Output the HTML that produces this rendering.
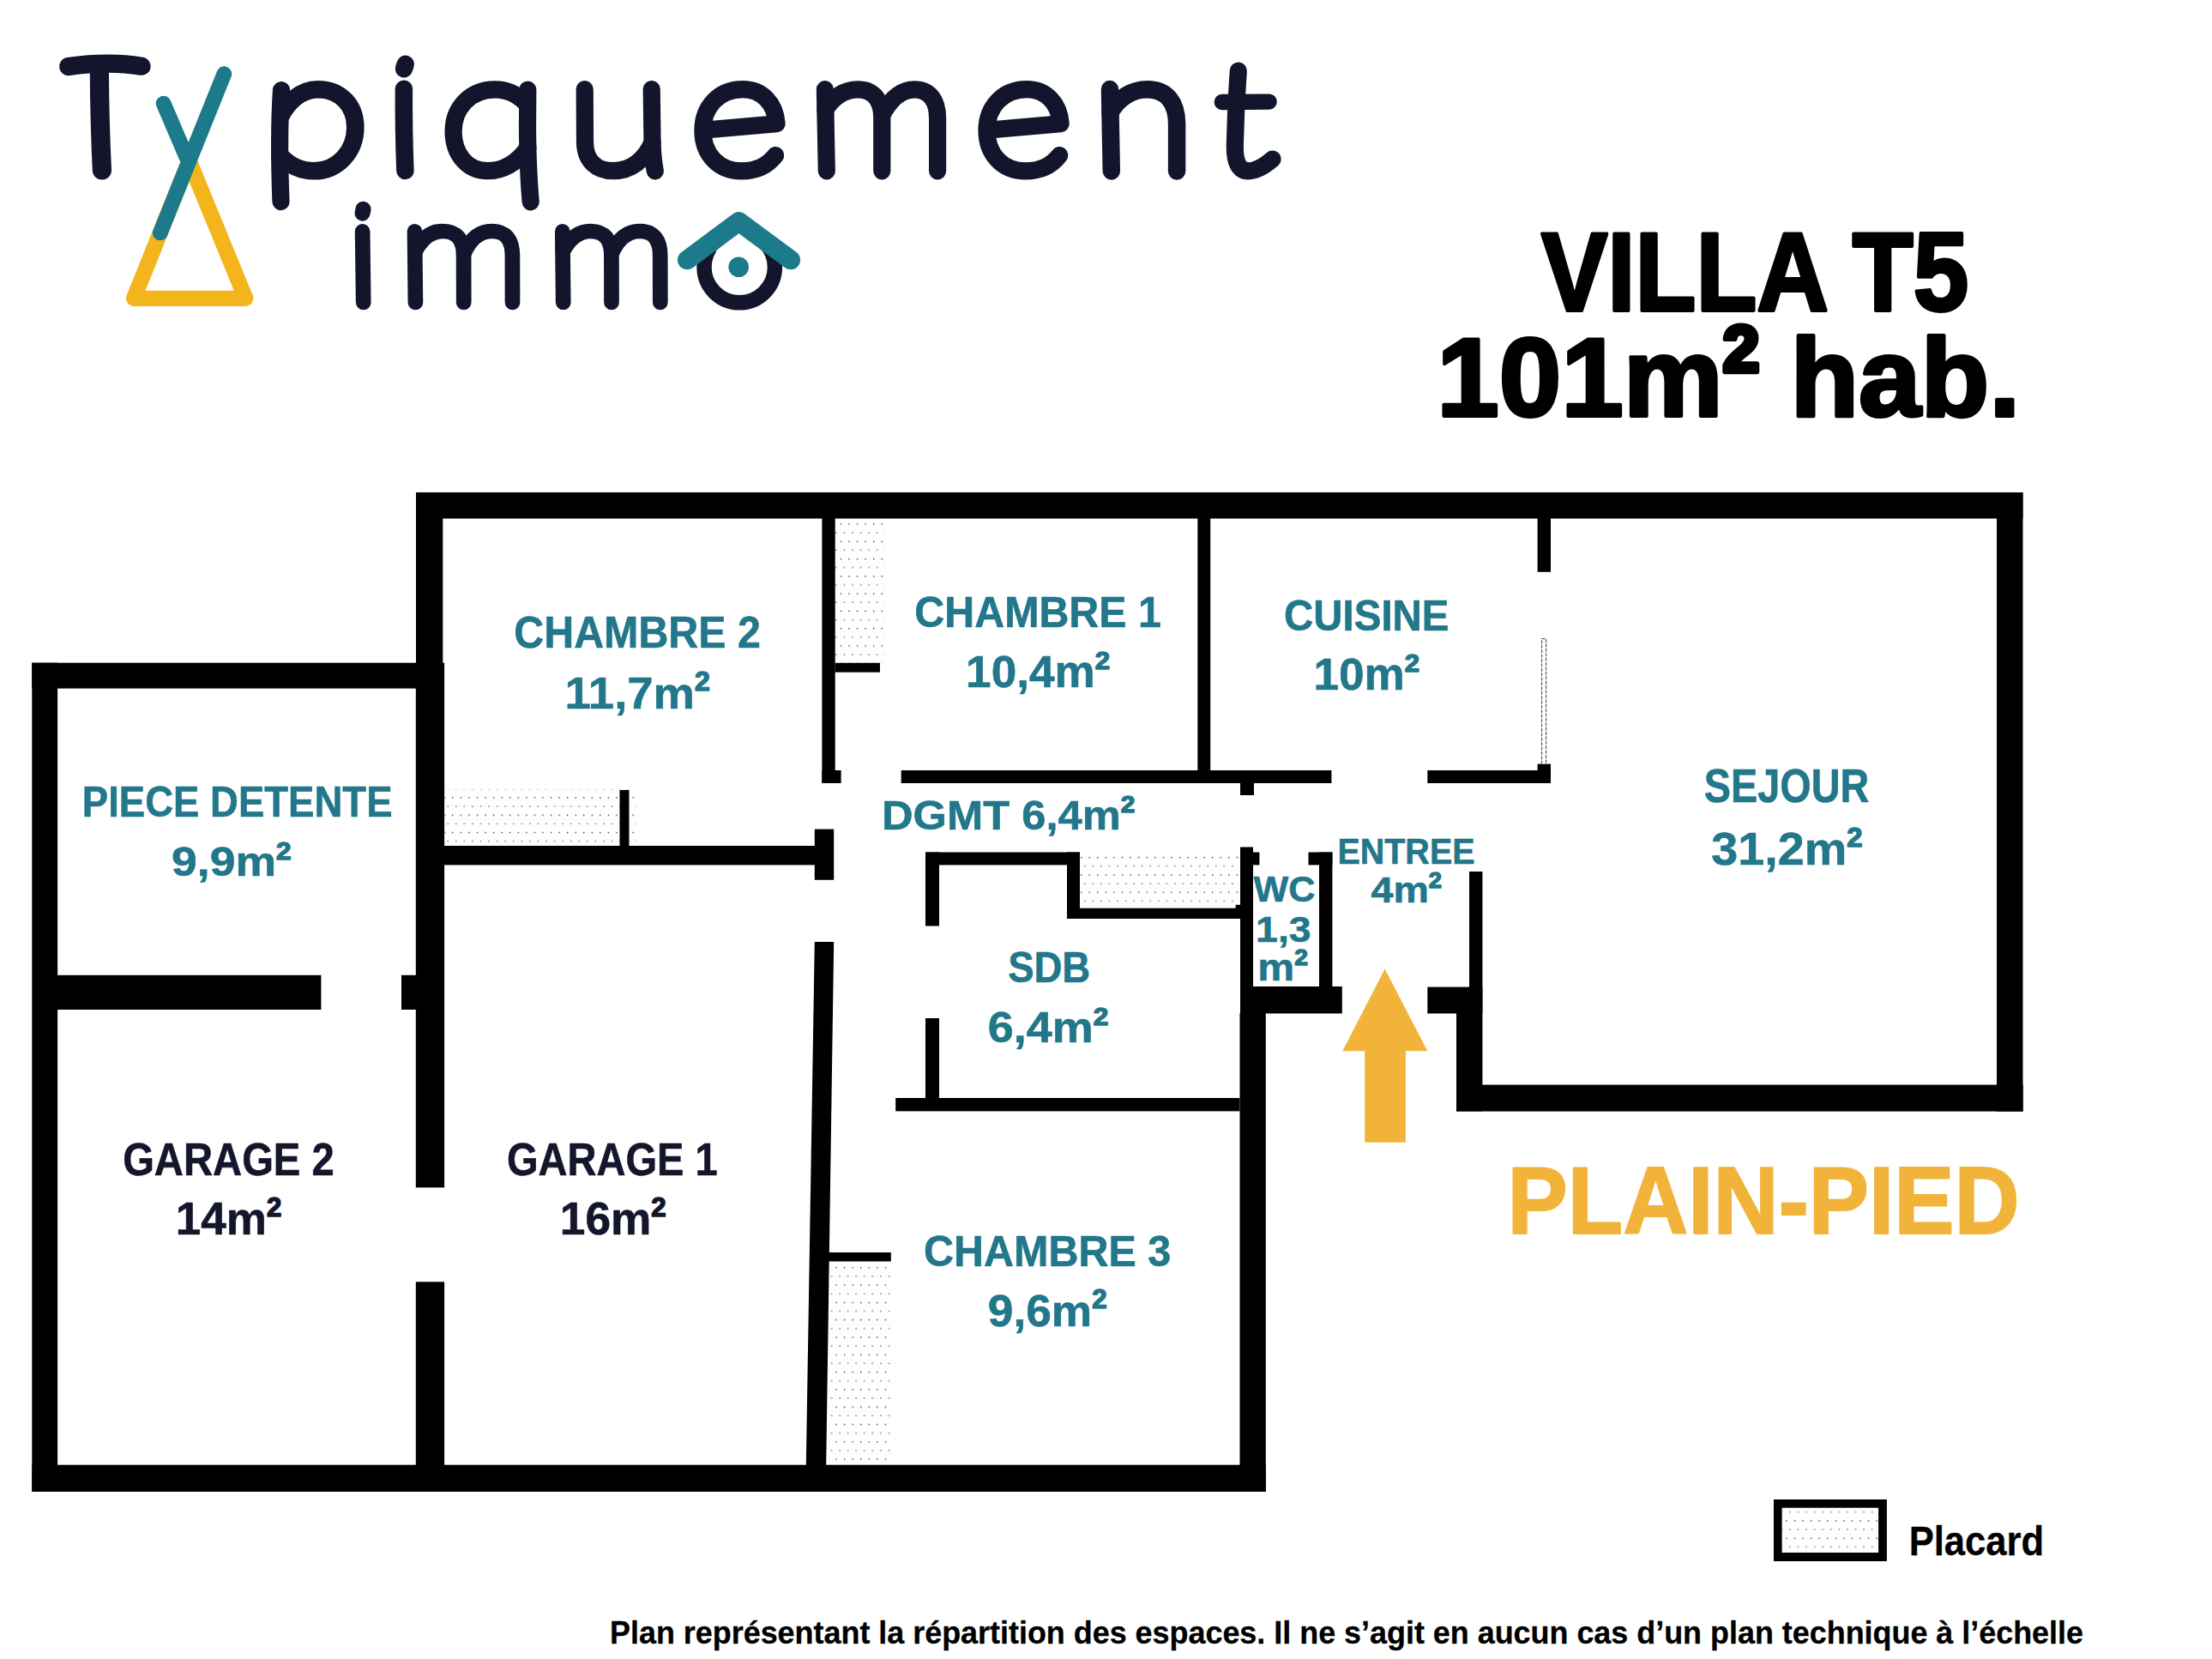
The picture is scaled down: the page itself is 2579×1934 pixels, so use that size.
<!DOCTYPE html>
<html><head><meta charset="utf-8"><title>Plan Villa T5</title>
<style>
html,body{margin:0;padding:0;background:#fff;}
body{width:2579px;height:1934px;overflow:hidden;font-family:"Liberation Sans",sans-serif;}
svg{display:block;position:absolute;left:0;top:0;}
text{font-family:"Liberation Sans",sans-serif;font-weight:bold;}
</style></head><body>
<svg width="2579" height="1934" viewBox="0 0 2579 1934">
<defs>
<pattern id="dots0" width="9.56" height="20.3" patternUnits="userSpaceOnUse" x="979.75" y="610.25"><rect x="0" y="0" width="1.3" height="1.3" fill="#1a1a1a"/><rect x="3.95" y="10.05" width="1.5" height="1.5" fill="#777"/></pattern><pattern id="dots1" width="9.56" height="20.3" patternUnits="userSpaceOnUse" x="517.55" y="929.25"><rect x="0" y="0" width="1.3" height="1.3" fill="#1a1a1a"/><rect x="3.95" y="10.05" width="1.5" height="1.5" fill="#777"/></pattern><pattern id="dots2" width="9.56" height="20.3" patternUnits="userSpaceOnUse" x="1260.05" y="998.95"><rect x="0" y="0" width="1.3" height="1.3" fill="#1a1a1a"/><rect x="3.95" y="10.05" width="1.5" height="1.5" fill="#777"/></pattern><pattern id="dots3" width="9.56" height="20.3" patternUnits="userSpaceOnUse" x="974.35" y="1477.15"><rect x="0" y="0" width="1.3" height="1.3" fill="#1a1a1a"/><rect x="3.95" y="10.05" width="1.5" height="1.5" fill="#777"/></pattern><pattern id="dots4" width="9.56" height="20.3" patternUnits="userSpaceOnUse" x="2082.25" y="1772.25"><rect x="0" y="0" width="1.3" height="1.3" fill="#1a1a1a"/><rect x="3.95" y="10.05" width="1.5" height="1.5" fill="#777"/></pattern>
</defs>
<rect width="2579" height="1934" fill="#fff"/>

<g id="closets">
<rect x="974" y="605" width="57.6" height="167.8" fill="#fefefe"/>
<rect x="974" y="605" width="57.6" height="167.8" fill="url(#dots0)"/>
<rect x="518" y="920" width="224.0" height="66.0" fill="#fefefe"/>
<rect x="518" y="920" width="224.0" height="66.0" fill="url(#dots1)"/>
<rect x="1258.9" y="992.9" width="186.6" height="66.2" fill="#fefefe"/>
<rect x="1258.9" y="992.9" width="186.6" height="66.2" fill="url(#dots2)"/>
<rect x="966.2" y="1471" width="72.9" height="235.0" fill="#fefefe"/>
<rect x="966.2" y="1471" width="72.9" height="235.0" fill="url(#dots3)"/>
<rect x="2077.6" y="1757.7" width="112.5" height="52.4" fill="#fefefe"/>
<rect x="2077.6" y="1757.7" width="112.5" height="52.4" fill="url(#dots4)"/>
</g>
<g id="walls" fill="#000">
<rect x="485" y="574" width="1873.5" height="30.5"/>
<rect x="485" y="574" width="31.3" height="199.0"/>
<rect x="37.3" y="772.7" width="480.7" height="29.9"/>
<rect x="37.3" y="772.7" width="29.8" height="966.3"/>
<rect x="37.3" y="1707.7" width="1438.5" height="31.3"/>
<rect x="67" y="1136.8" width="307.4" height="40.2"/>
<rect x="468" y="1136.8" width="17.0" height="40.2"/>
<rect x="484.8" y="773" width="33.3" height="611.4"/>
<rect x="484.8" y="1494.3" width="33.3" height="213.7"/>
<rect x="516" y="986" width="456.0" height="22.4"/>
<rect x="949.8" y="966.6" width="22.4" height="59.2"/>
<rect x="722.5" y="921" width="11.0" height="65.0"/>
<rect x="958.4" y="604" width="15.3" height="309.0"/>
<rect x="958.4" y="898" width="22.2" height="15.0"/>
<rect x="973.6" y="772.8" width="52.4" height="10.9"/>
<rect x="1396.3" y="604" width="14.9" height="294.0"/>
<rect x="1050.7" y="898" width="501.7" height="15.0"/>
<rect x="1446" y="913" width="16.0" height="14.0"/>
<rect x="1664.3" y="898" width="143.7" height="15.0"/>
<rect x="1792.6" y="890.6" width="15.4" height="22.4"/>
<rect x="1792.6" y="604" width="15.4" height="62.8"/>
<rect x="1079" y="993.5" width="180.0" height="14.9"/>
<rect x="1079" y="993.5" width="16.0" height="86.0"/>
<rect x="1244" y="993.5" width="15.0" height="77.1"/>
<rect x="1244" y="1058.7" width="203.0" height="12.3"/>
<rect x="1440.6" y="1054.8" width="6.4" height="5.2"/>
<rect x="1446" y="987.5" width="15.0" height="193.5"/>
<rect x="1446" y="993.5" width="22.4" height="14.9"/>
<rect x="1538" y="993.5" width="15.4" height="158.1"/>
<rect x="1525.5" y="993.5" width="27.9" height="14.9"/>
<rect x="1446" y="1150" width="118.8" height="31.5"/>
<rect x="1445.5" y="1181" width="30.3" height="558.0"/>
<rect x="1079" y="1187" width="16.0" height="93.0"/>
<rect x="1044.2" y="1280" width="401.3" height="15.4"/>
<rect x="966.2" y="1460" width="72.6" height="10.5"/>
<rect x="1713" y="1016" width="15.4" height="165.0"/>
<rect x="1664.3" y="1150.6" width="64.1" height="30.9"/>
<rect x="1698" y="1181" width="30.4" height="114.4"/>
<rect x="1698" y="1264.6" width="660.7" height="31.0"/>
<rect x="2328" y="574" width="30.5" height="721.6"/>
<polygon points="949.8,1098 972.2,1098 963.2,1708 939.8,1708"/>
<path fill-rule="evenodd" d="M2068,1748.1H2199.9V1819.9H2068Z M2077.6,1757.7H2190.1V1810.1H2077.6Z"/>
</g>
<rect x="1797.6" y="744.6" width="5" height="146.4" fill="#fff" stroke="#222" stroke-width="0.9" stroke-dasharray="4 1.4"/>
<polygon fill="#f2b33a" points="1614.6,1129.5 1664.3,1225.3 1638.9,1225.3 1638.9,1331.7 1591.2,1331.7 1591.2,1225.3 1565.3,1225.3"/>
<g id="labels">
<text id="t0" x="599.23" y="755.20" font-size="51.73" fill="#23778a" stroke="#23778a" stroke-width="0.60" stroke-linejoin="round" textLength="287.74" lengthAdjust="spacingAndGlyphs">CHAMBRE 2</text>
<text id="t1" x="658.54" y="825.60" font-size="52.71" fill="#23778a" stroke="#23778a" stroke-width="0.60" stroke-linejoin="round" textLength="169.27" lengthAdjust="spacingAndGlyphs">11,7m<tspan font-size="30.84" dy="-21.09" stroke-width="1.55">2</tspan></text>
<text id="t2" x="95.82" y="952.20" font-size="50.72" fill="#23778a" stroke="#23778a" stroke-width="0.60" stroke-linejoin="round" textLength="361.70" lengthAdjust="spacingAndGlyphs">PIECE DETENTE</text>
<text id="t3" x="199.98" y="1021.40" font-size="48.87" fill="#23778a" stroke="#23778a" stroke-width="0.60" stroke-linejoin="round" textLength="139.53" lengthAdjust="spacingAndGlyphs">9,9m<tspan font-size="28.59" dy="-19.55" stroke-width="1.48">2</tspan></text>
<text id="t4" x="1066.33" y="731.20" font-size="50.58" fill="#23778a" stroke="#23778a" stroke-width="0.60" stroke-linejoin="round" textLength="287.58" lengthAdjust="spacingAndGlyphs">CHAMBRE 1</text>
<text id="t5" x="1126.13" y="800.80" font-size="51.15" fill="#23778a" stroke="#23778a" stroke-width="0.60" stroke-linejoin="round" textLength="167.88" lengthAdjust="spacingAndGlyphs">10,4m<tspan font-size="29.93" dy="-20.46" stroke-width="1.52">2</tspan></text>
<text id="t6" x="1497.02" y="734.50" font-size="50.44" fill="#23778a" stroke="#23778a" stroke-width="0.60" stroke-linejoin="round" textLength="192.51" lengthAdjust="spacingAndGlyphs">CUISINE</text>
<text id="t7" x="1531.51" y="803.70" font-size="51.72" fill="#23778a" stroke="#23778a" stroke-width="0.60" stroke-linejoin="round" textLength="123.60" lengthAdjust="spacingAndGlyphs">10m<tspan font-size="30.25" dy="-20.69" stroke-width="1.53">2</tspan></text>
<text id="t8" x="1027.96" y="966.50" font-size="48.72" fill="#23778a" stroke="#23778a" stroke-width="0.60" stroke-linejoin="round" textLength="295.34" lengthAdjust="spacingAndGlyphs">DGMT 6,4m<tspan font-size="28.50" dy="-19.49" stroke-width="1.48">2</tspan></text>
<text id="t9" x="1559.40" y="1006.50" font-size="41.72" fill="#23778a" stroke="#23778a" stroke-width="0.60" stroke-linejoin="round" textLength="160.18" lengthAdjust="spacingAndGlyphs">ENTREE</text>
<text id="t10" x="1598.50" y="1052.40" font-size="43.14" fill="#23778a" stroke="#23778a" stroke-width="0.60" stroke-linejoin="round" textLength="82.56" lengthAdjust="spacingAndGlyphs">4m<tspan font-size="25.24" dy="-17.26" stroke-width="1.38">2</tspan></text>
<text id="t11" x="1461.55" y="1051.40" font-size="42.86" fill="#23778a" stroke="#23778a" stroke-width="0.60" stroke-linejoin="round" textLength="72.06" lengthAdjust="spacingAndGlyphs">WC</text>
<text id="t12" x="1464.14" y="1097.70" font-size="42.14" fill="#23778a" stroke="#23778a" stroke-width="0.60" stroke-linejoin="round" textLength="64.39" lengthAdjust="spacingAndGlyphs">1,3</text>
<text id="t13" x="1466.30" y="1142.90" font-size="43.97" fill="#23778a" stroke="#23778a" stroke-width="0.60" stroke-linejoin="round" textLength="58.57" lengthAdjust="spacingAndGlyphs">m<tspan font-size="25.72" dy="-17.59" stroke-width="1.39">2</tspan></text>
<text id="t14" x="1175.17" y="1144.70" font-size="49.30" fill="#23778a" stroke="#23778a" stroke-width="0.60" stroke-linejoin="round" textLength="96.03" lengthAdjust="spacingAndGlyphs">SDB</text>
<text id="t15" x="1151.82" y="1215.10" font-size="50.44" fill="#23778a" stroke="#23778a" stroke-width="0.60" stroke-linejoin="round" textLength="140.49" lengthAdjust="spacingAndGlyphs">6,4m<tspan font-size="29.51" dy="-20.18" stroke-width="1.51">2</tspan></text>
<text id="t16" x="1077.03" y="1476.10" font-size="50.87" fill="#23778a" stroke="#23778a" stroke-width="0.60" stroke-linejoin="round" textLength="288.29" lengthAdjust="spacingAndGlyphs">CHAMBRE 3</text>
<text id="t17" x="1151.78" y="1545.60" font-size="52.01" fill="#23778a" stroke="#23778a" stroke-width="0.60" stroke-linejoin="round" textLength="138.73" lengthAdjust="spacingAndGlyphs">9,6m<tspan font-size="30.43" dy="-20.80" stroke-width="1.54">2</tspan></text>
<text id="t18" x="143.13" y="1369.50" font-size="52.72" fill="#14162c" stroke="#14162c" stroke-width="0.60" stroke-linejoin="round" textLength="246.59" lengthAdjust="spacingAndGlyphs">GARAGE 2</text>
<text id="t19" x="204.71" y="1439.40" font-size="52.79" fill="#14162c" stroke="#14162c" stroke-width="0.60" stroke-linejoin="round" textLength="123.50" lengthAdjust="spacingAndGlyphs">14m<tspan font-size="30.88" dy="-21.12" stroke-width="1.55">2</tspan></text>
<text id="t20" x="590.93" y="1369.50" font-size="52.72" fill="#14162c" stroke="#14162c" stroke-width="0.60" stroke-linejoin="round" textLength="245.78" lengthAdjust="spacingAndGlyphs">GARAGE 1</text>
<text id="t21" x="652.81" y="1439.40" font-size="52.79" fill="#14162c" stroke="#14162c" stroke-width="0.60" stroke-linejoin="round" textLength="123.90" lengthAdjust="spacingAndGlyphs">16m<tspan font-size="30.88" dy="-21.12" stroke-width="1.55">2</tspan></text>
<text id="t22" x="1986.69" y="935.30" font-size="55.58" fill="#23778a" stroke="#23778a" stroke-width="0.60" stroke-linejoin="round" textLength="192.67" lengthAdjust="spacingAndGlyphs">SEJOUR</text>
<text id="t23" x="1995.29" y="1008.30" font-size="54.44" fill="#23778a" stroke="#23778a" stroke-width="0.60" stroke-linejoin="round" textLength="176.21" lengthAdjust="spacingAndGlyphs">31,2m<tspan font-size="31.85" dy="-21.78" stroke-width="1.58">2</tspan></text>
<text id="t24" x="1757.60" y="1438.00" font-size="110.65" fill="#f2b33a" stroke="#f2b33a" stroke-width="2.00" stroke-linejoin="round" textLength="597.05" lengthAdjust="spacingAndGlyphs">PLAIN-PIED</text>
<text id="t25" x="2225.65" y="1812.65" font-size="47.80" fill="#000" stroke="#000" stroke-width="0.30" stroke-linejoin="round" textLength="157.60" lengthAdjust="spacingAndGlyphs">Placard</text>
<text id="t26" x="1797.00" y="362.40" font-size="130.09" fill="#000" stroke="#000" stroke-width="4.00" stroke-linejoin="round" textLength="498.20" lengthAdjust="spacingAndGlyphs">VILLA T5</text>
<text id="t27" x="1675.28" y="484.50" font-size="129.93" fill="#000" stroke="#000" stroke-width="4.00" stroke-linejoin="round" textLength="680.20" lengthAdjust="spacingAndGlyphs">101m<tspan font-size="76.01" dy="-51.97" stroke-width="6.34">2</tspan><tspan dy="51.97"> hab.</tspan></text>
<text id="t28" x="711.05" y="1916.25" font-size="36.11" fill="#000" stroke="#000" stroke-width="0.30" stroke-linejoin="round" textLength="1717.96" lengthAdjust="spacingAndGlyphs">Plan représentant la répartition des espaces. Il ne s’agit en aucun cas d’un plan technique à l’échelle</text>
</g>
<g id="logo" fill="none" stroke-linecap="round" stroke-linejoin="round">
<!-- yellow triangle -->
<path d="M220.6,187.5 L156,347.8 L286.3,347.8 Z" stroke="#f4b41b" stroke-width="18.2"/>
<!-- teal Y -->
<path d="M261.3,86.3 L186.8,271.4 M190.6,120.6 L218,184.5" stroke="#1c7a8b" stroke-width="17.8"/>
<g stroke="#12152b" stroke-width="20.2">
<!-- T -->
<path d="M79.8,77.5 Q126.6,71 165,77.2" stroke-width="21.3"/>
<path d="M115.8,78 C116,120 117,160 118.9,198.5" stroke-width="22.2"/>
<!-- p -->
<path d="M328,105 Q324.5,160 327.5,235.2"/>
<path d="M327,136 C335,120 350,104.2 370.5,104.2 C398,104.2 414.3,124 414.3,148.4 C414.3,176 394,199.3 366.3,199.3 C352,199.3 340,195 327,182" stroke-width="20.6"/>
<!-- i -->
<path d="M472.7,74.8 L471,80.2" stroke-width="20.5"/>
<path d="M470.9,103.8 Q470.5,150 472.4,199.1" stroke-width="20.5"/>
<!-- q -->
<path d="M615.3,104.5 L615,150 Q615.5,200 618.7,235.4"/>
<path d="M615,122 C604,110 592,104.4 577.3,104.4 C547,104.4 528.6,127 528.6,153 C528.6,180 545,199.2 568.5,199.2 C586,199.2 603,190 615.5,172"/>
<!-- u -->
<path d="M681.7,104.1 L682,165 C682,188 696,199.2 715,199.2 C736,199.2 752,186 760.5,166"/>
<path d="M759.7,104.1 L760.5,165 Q761,185 763.8,199.4"/>
<!-- e1 -->
<path id="e" d="M819.8,151.7 L905.6,144.2 C904,121 889,104.1 866,104.1 C838,104.1 819.4,125 819.4,152 C819.4,180 838,199.4 864.6,199.4 C881,199.4 895,193 904.1,181.1"/>
<!-- m -->
<path d="M961.9,104.2 L963.8,199.3"/>
<path d="M962.3,128 C971,113 985,104.4 1000,104.4 C1019,104.4 1028.3,117 1028.3,138 L1028.3,199.3"/>
<path d="M1028.3,134 C1038,116 1051,104.4 1066,104.4 C1084,104.4 1093.1,117 1093.1,138 L1093.1,199.3"/>
<!-- e2 -->
<use href="#e" x="331.1"/>
<!-- n -->
<path d="M1294,104.1 L1295.8,199.4" stroke-width="20.5"/>
<path d="M1294.5,131 C1304,114 1320,104.2 1337.7,104.2 C1361,104.2 1372.1,120 1372.1,145 L1372.1,199.4" stroke-width="20.5"/>
<!-- t -->
<path d="M1443.8,82.7 L1441.5,119 L1439.8,170 C1439.5,190 1445,199.3 1455.3,199.3 C1466,199.3 1475,193 1483.6,185.5"/>
<path d="M1424.8,119 L1479.6,118.6" stroke-width="18.4"/>
</g>
<g stroke="#12152b" stroke-width="17.7">
<!-- i2 -->
<path d="M423.5,243.8 L422.6,248.6" stroke-width="18.1"/>
<path d="M422.6,269.8 L423.7,352.5"/>
<!-- m1 -->
<g id="m2">
<path d="M483.5,269.8 L484.4,352.5"/>
<path d="M484,293 C492,278 503,269.5 516.1,269.5 C533,269.5 540.6,280 540.6,298 L540.7,352.5"/>
<path d="M540.6,296 C548,279 559,269.5 573.6,269.5 C590,269.5 597.4,280 597.4,298 L597.5,352.5"/>
</g>
<use href="#m2" x="172.3"/>
<!-- o -->
<circle cx="862.2" cy="311.6" r="41.2" stroke-width="17.4"/>
</g>
<polygon points="861.3,271 834,293 889,293" fill="#fff" stroke="none"/>
<circle cx="861.2" cy="311.3" r="11.8" fill="#1c7a8b" stroke="none"/>
<path d="M801.2,303 L861.4,258.2 L921.9,303" stroke="#1c7a8b" stroke-width="22.4"/>
</g>

</svg></body></html>
